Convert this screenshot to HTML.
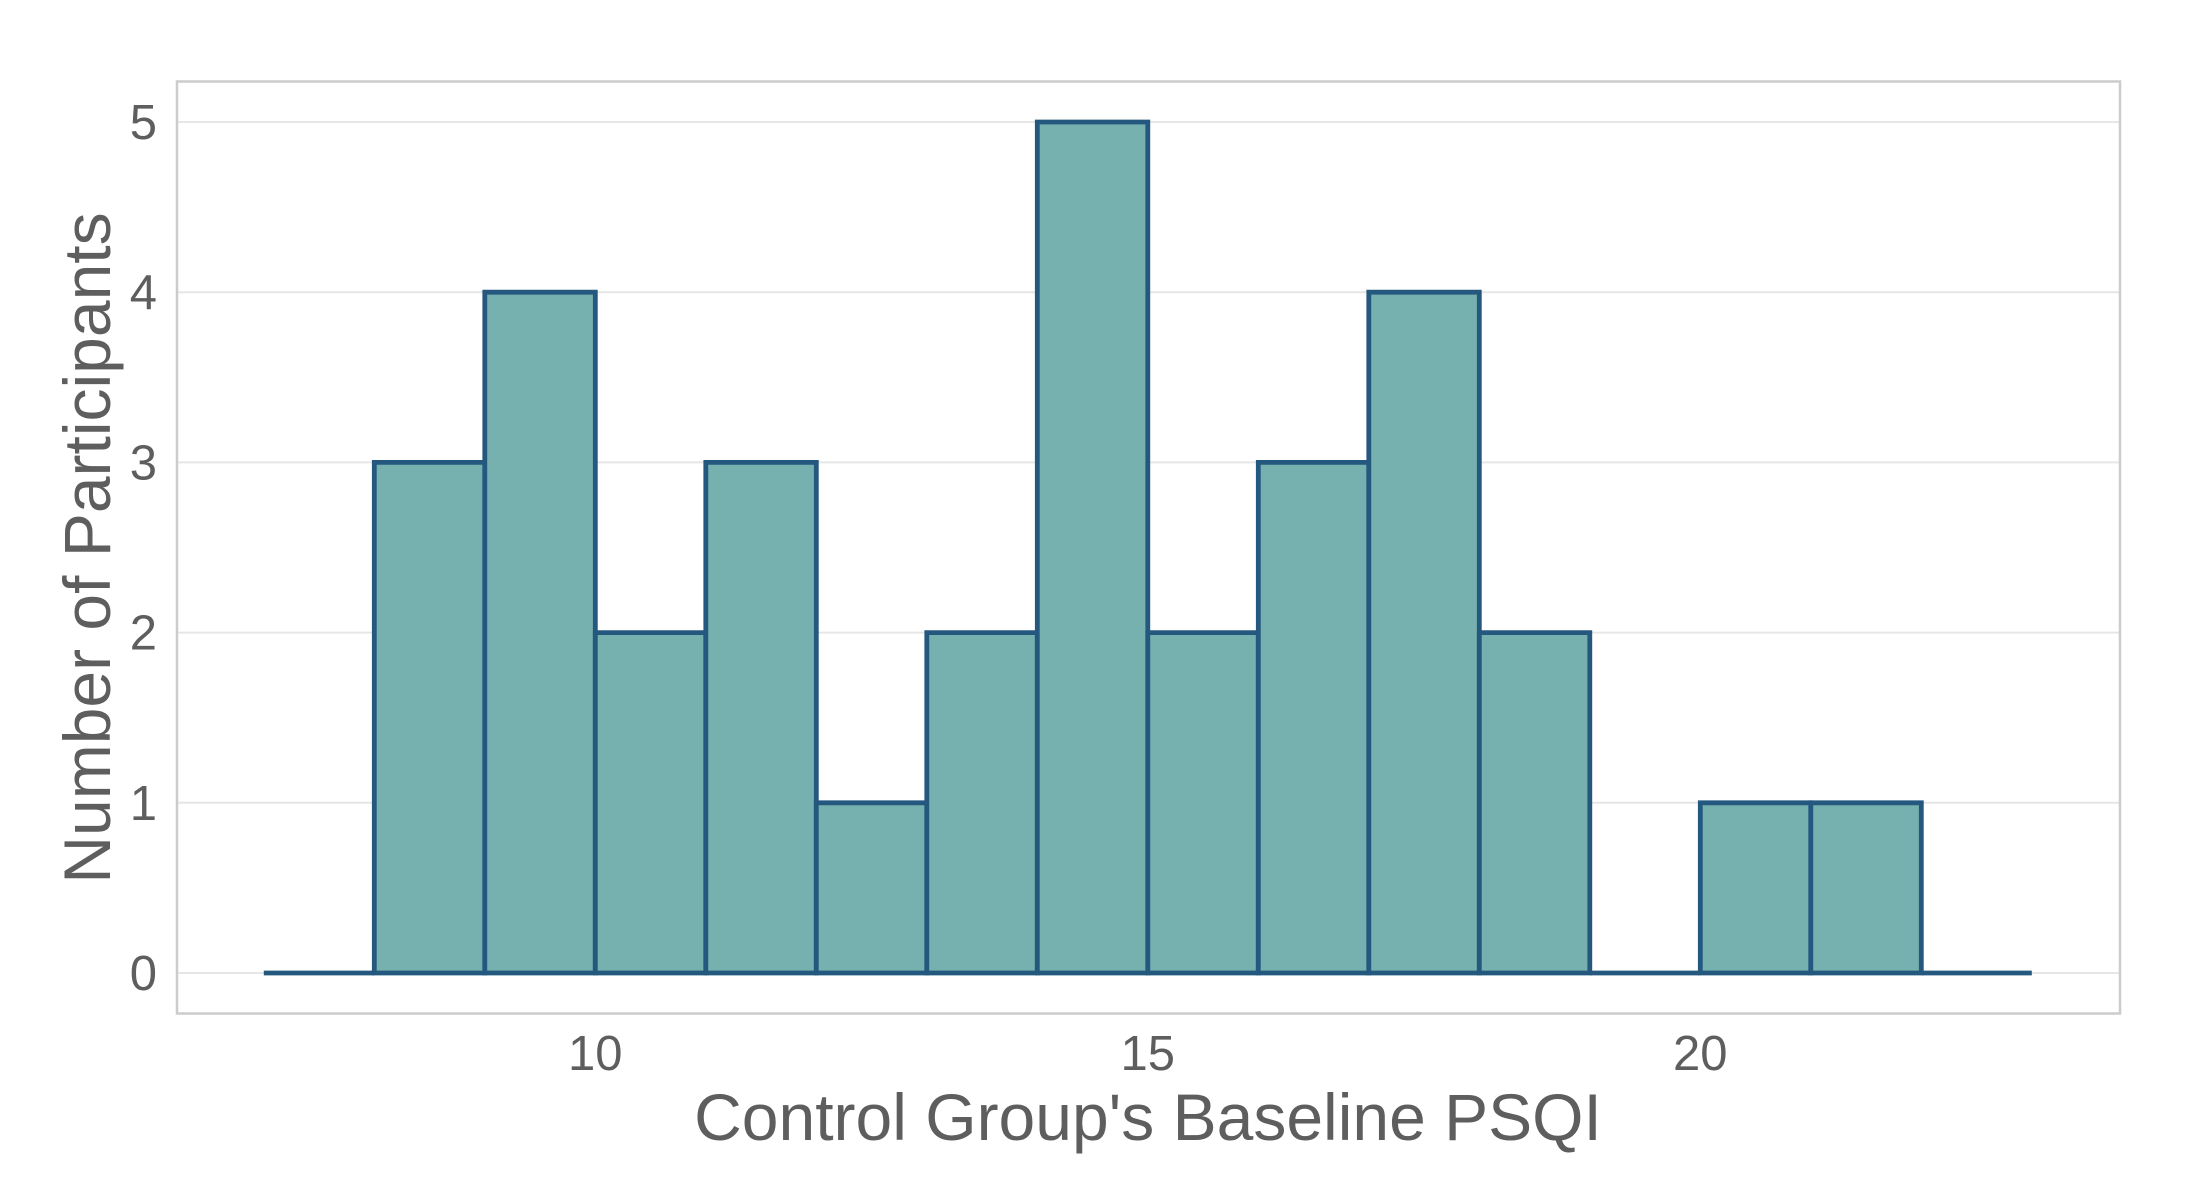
<!DOCTYPE html>
<html><head><meta charset="utf-8"><style>
html,body{margin:0;padding:0;background:#fff;}
svg{display:block;font-family:"Liberation Sans",sans-serif;}
</style></head><body>
<svg id="chart" width="2200" height="1200" viewBox="0 0 2200 1200" xmlns="http://www.w3.org/2000/svg">
<g id="grid"></g>
<g id="bars"></g>
<rect x="177" y="81.5" width="1943" height="932" fill="none" stroke="#cccccc" stroke-width="2.5"/>
<g id="yticks"></g>
<g id="xticks"></g>
<text x="1148" y="1140" text-anchor="middle" font-size="66" fill="#5e5e5e">Control Group's Baseline PSQI</text>
<text transform="translate(110,548) rotate(-90)" text-anchor="middle" font-size="66" fill="#5e5e5e">Number of Participants</text>
</svg>
<script>
const binStarts = [7,8,9,10,11,12,13,14,15,16,17,18,19,20,21,22];
const counts = [0,3,4,2,3,1,2,5,2,3,4,2,0,1,1,0];
const binWidth = 1;
const xTicks = [10,15,20];
const yTicks = [0,1,2,3,4,5];
const NS = "http://www.w3.org/2000/svg";
function xs(v){return 595.3 + (v-10)*110.5;}
function ys(v){return 973 - v*170.2;}
const grid=document.getElementById('grid'), bars=document.getElementById('bars');
yTicks.forEach(t=>{
  const l=document.createElementNS(NS,'line');
  
  
  l.setAttribute('x1',177);l.setAttribute('x2',2120);
  l.setAttribute('y1',ys(t));l.setAttribute('y2',ys(t));
  l.setAttribute('stroke','#e6e6e6');l.setAttribute('stroke-width','2');
  grid.appendChild(l);
  const tx=document.createElementNS(NS,'text');
  
  
  tx.setAttribute('x',157);tx.setAttribute('y',ys(t)+17);
  tx.setAttribute('text-anchor','end');tx.setAttribute('font-size','49');tx.setAttribute('fill','#5e5e5e');
  tx.textContent=t;
  document.getElementById('yticks').appendChild(tx);
});
xTicks.forEach(t=>{
  const tx=document.createElementNS(NS,'text');
  
  
  tx.setAttribute('x',xs(t));tx.setAttribute('y',1070);
  tx.setAttribute('text-anchor','middle');tx.setAttribute('font-size','49');tx.setAttribute('fill','#5e5e5e');
  tx.textContent=t;
  document.getElementById('xticks').appendChild(tx);
});
binStarts.forEach((b,i)=>{
  const p=document.createElementNS(NS,'path');
  
  
  const x0=xs(b), x1=xs(b+binWidth), y=ys(counts[i]), y0=ys(0);
  p.setAttribute('d',`M${x0},${y0}V${y}H${x1}V${y0}Z`);
  p.setAttribute('fill','#76b0af');p.setAttribute('stroke','#25587f');p.setAttribute('stroke-width','4.8');
  p.setAttribute('stroke-linejoin','miter');
  bars.appendChild(p);
});
</script>
</body></html>
